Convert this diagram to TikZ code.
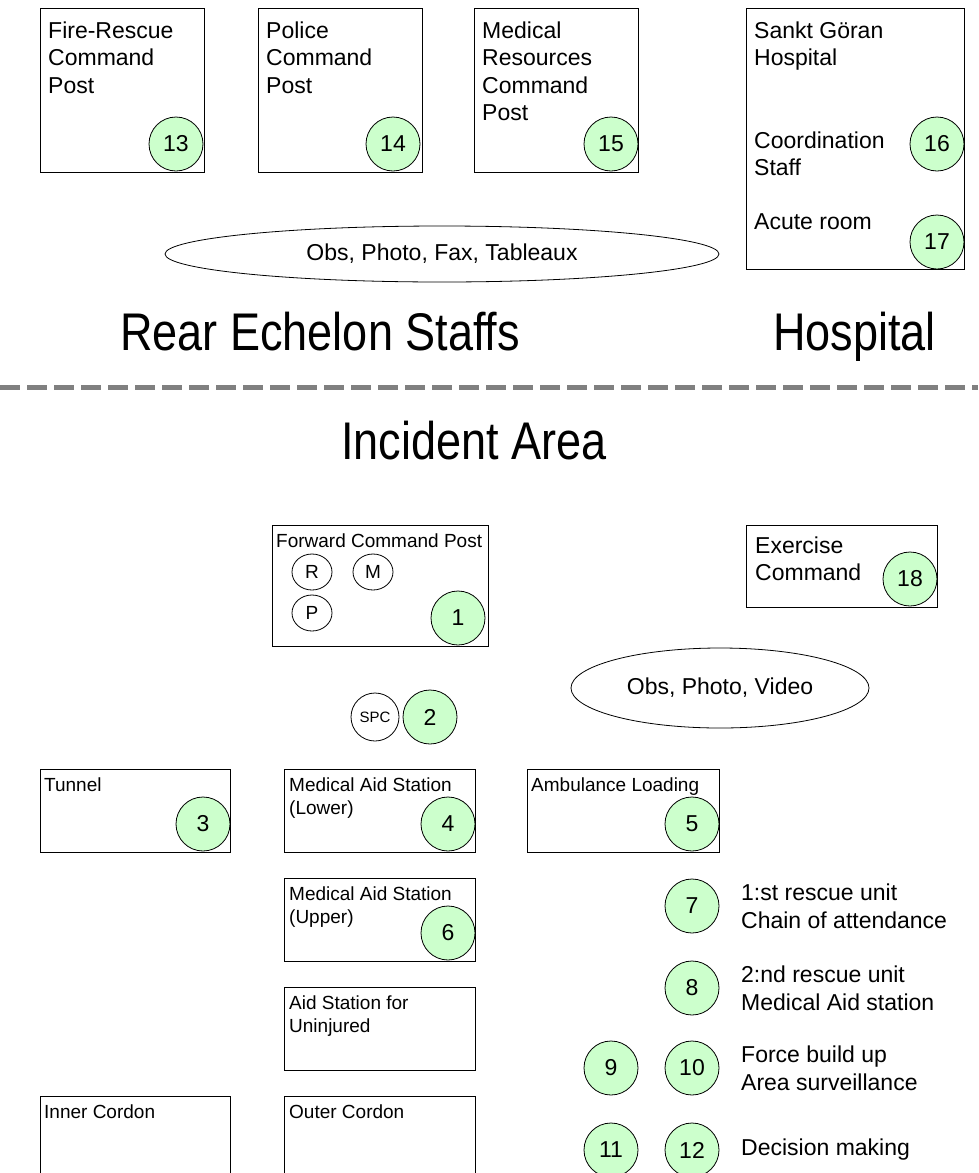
\documentclass[tikz,border=0pt]{standalone}
\usepackage{fontspec}
\setmainfont{Liberation Sans}
\usetikzlibrary{shapes.geometric}
\definecolor{numgreen}{RGB}{204,255,204}
\definecolor{sepgray}{RGB}{128,128,128}
\newcommand{\narrow}[1]{\scalebox{0.85}[1]{#1}}
\begin{document}
\begin{tikzpicture}[x=1pt, y=-1pt,
  box/.style={draw, line width=0.8pt, anchor=north west, inner sep=0pt},
  lbl/.style={anchor=north west, align=left, inner sep=0pt, font=\fontsize{23}{27.5}\selectfont},
  slbl/.style={anchor=north west, align=left, inner sep=0pt, font=\fontsize{19}{23}\selectfont},
  big/.style={anchor=base west, inner sep=0pt, font=\fontsize{53}{60}\selectfont},
  num/.style={circle, draw, line width=0.8pt, fill=numgreen, minimum size=54pt, inner sep=0pt, font=\fontsize{23}{27}\selectfont},
  role/.style={ellipse, draw, line width=0.8pt, fill=white, minimum width=40pt, minimum height=36pt, inner sep=0pt, font=\fontsize{19}{23}\selectfont},
  obs/.style={ellipse, draw, line width=0.8pt, inner sep=0pt, font=\fontsize{23}{27}\selectfont},
  note/.style={anchor=west, align=left, inner sep=0pt, font=\fontsize{23}{28}\selectfont}]
\useasboundingbox (0,0) rectangle (978,1173);
\fill[white] (0,0) rectangle (978,1173);
% rear echelon staffs
\node[box, minimum width=164pt, minimum height=164pt] (firebox) at (40,8) {};
\node[box, minimum width=164pt, minimum height=164pt] (policebox) at (258,8) {};
\node[box, minimum width=164pt, minimum height=164pt] (medbox) at (474,8) {};
\node[box, minimum width=218pt, minimum height=261pt] (hospbox) at (746,8) {};
\node[lbl] (firetxt) at (48,21.5) {Fire-Rescue\\Command\\Post};
\node[lbl] (policetxt) at (266,21.5) {Police\\Command\\Post};
\node[lbl] (medtxt) at (482,21.5) {Medical\\Resources\\Command\\Post};
\node[lbl] (hosptxt) at (754,21.5) {Sankt Göran\\Hospital};
\node[lbl] (coordtxt) at (754,131.5) {Coordination\\Staff};
\node[lbl] (acutetxt) at (754,213.5) {Acute room};
\node[obs, minimum width=554pt, minimum height=56pt] (obsrear) at (442,254) {Obs, Photo, Fax, Tableaux};
\node[big] (reartitle) at (120,350) {\narrow{Rear Echelon Staffs}};
\node[big] (hosptitle) at (773,350) {\narrow{Hospital}};
% separation
\coordinate (sepL) at (0,387);
\coordinate (sepR) at (978,387);
\draw[sepgray, line width=5pt, dash pattern=on 20pt off 7pt] (sepL) -- (sepR);
% incident area
\node[big] (areatitle) at (341,459) {\narrow{Incident Area}};
\node[box, minimum width=216pt, minimum height=121pt] (fcpbox) at (272,525) {};
\node[slbl] (fcptxt) at (276,534) {Forward Command Post};
\node[role] (rescue) at (312,572) {R};
\node[role] (medic) at (373,572) {M};
\node[role] (police) at (312,613) {P};
\node[box, minimum width=191pt, minimum height=82pt] (exbox) at (746,525) {};
\node[lbl] (extxt) at (755,536.5) {Exercise\\Command};
\node[obs, minimum width=298pt, minimum height=80pt] (obsarea) at (720,688) {Obs, Photo, Video};
\node[role, minimum width=48pt, minimum height=48pt, font=\fontsize{15}{18}\selectfont] (spc) at (375,717) {SPC};
\node[box, minimum width=190pt, minimum height=83pt] (tunnelbox) at (40,769) {};
\node[box, minimum width=191pt, minimum height=83pt] (lowbox) at (284,769) {};
\node[box, minimum width=192pt, minimum height=83pt] (ambbox) at (527,769) {};
\node[box, minimum width=191pt, minimum height=83pt] (upbox) at (284,878) {};
\node[box, minimum width=191pt, minimum height=83pt] (uninjbox) at (284,987) {};
\node[box, minimum width=190pt, minimum height=100pt] (innerbox) at (40,1096) {};
\node[box, minimum width=191pt, minimum height=100pt] (outerbox) at (284,1096) {};
\node[slbl] (tunneltxt) at (44,778) {Tunnel};
\node[slbl] (lowtxt) at (289,778) {Medical Aid Station\\(Lower)};
\node[slbl] (ambtxt) at (531,778) {Ambulance Loading};
\node[slbl] (uptxt) at (289,887) {Medical Aid Station\\(Upper)};
\node[slbl] (uninjtxt) at (289,996) {Aid Station for\\Uninjured};
\node[slbl] (innertxt) at (44,1105) {Inner Cordon};
\node[slbl] (outertxt) at (289,1105) {Outer Cordon};
% numbered observers
\foreach \n/\x/\y in {13/176/144, 14/393/144, 15/611/144, 16/937/144, 17/937/242,
    18/910/579, 1/458/618, 2/430/717, 3/203/824, 4/448/824, 5/692/824, 6/448/933,
    7/692/906, 8/692/988, 9/611/1068, 10/692/1068, 11/611/1150, 12/692/1150}
  \node[num] (obs\n) at (\x,\y) {\n};
\node[note] (note7) at (741,906) {1:st rescue unit\\Chain of attendance};
\node[note] (note8) at (741,988) {2:nd rescue unit\\Medical Aid station};
\node[note] (note10) at (741,1068) {Force build up\\Area surveillance};
\node[note] (note12) at (741,1150) {Decision making};
\end{tikzpicture}
\end{document}
